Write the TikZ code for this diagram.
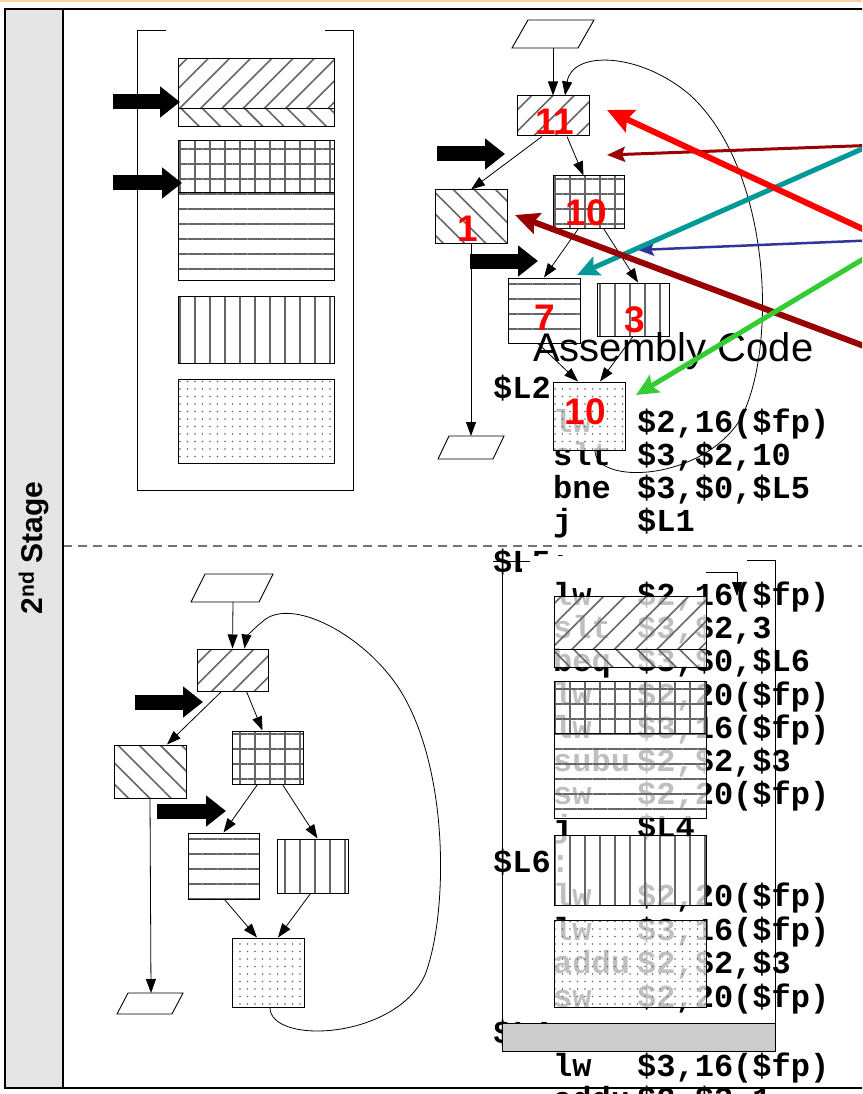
\documentclass[tikz,border=0pt]{standalone}
\usepackage{fontspec}
\setmainfont{Liberation Sans}
\newfontfamily\codefont{Liberation Mono}
\usetikzlibrary{arrows.meta,patterns.meta}
\definecolor{darkred}{RGB}{153,0,0}
\definecolor{tealc}{RGB}{0,153,153}
\definecolor{navyc}{RGB}{51,51,153}
\definecolor{greenc}{RGB}{51,204,51}
\begin{document}
\begin{tikzpicture}[x=1pt,y=-1pt,
  box/.style={draw, line width=1pt, inner sep=0pt, preaction={fill=white, fill opacity=0.75}, pattern color=black!60},
  nelines/.style={box, pattern={Lines[angle=45,distance=15pt,line width=1.6pt]}},
  nwlines/.style={box, pattern={Lines[angle=-45,distance=15pt,line width=1.6pt]}},
  gridbox/.style={box, pattern={Hatch[angle=0,distance=15pt,line width=1.5pt]}},
  hlines/.style={box, pattern={Lines[angle=0,distance=15pt,line width=1.5pt]}},
  vlines/.style={box, pattern={Lines[angle=90,distance=15pt,line width=1.5pt]}},
  dotbox/.style={box, pattern={Dots[distance=7.5pt,radius=0.8pt]}},
  io/.style={line width=0.9pt},
  flow/.style={line width=0.8pt, -{Triangle[length=14pt,width=10pt]}},
  fat/.style={line width=15pt, -{Triangle[length=20pt,width=30pt]}},
  asm/.style={anchor=base west, inner sep=0pt, font=\codefont\bfseries\fontsize{32pt}{33pt}\selectfont},
  num/.style={inner sep=0pt, text=red, font=\bfseries\fontsize{37pt}{37pt}\selectfont}]
\useasboundingbox (0,0) rectangle (862,1094);
\clip (0,0) rectangle (862,1094);
\fill[orange!35] (0,0) rectangle (862,2.5);
\fill[black!10] (5,9) rectangle (63,1088);
\node[rotate=90, font=\bfseries\fontsize{30pt}{30pt}\selectfont] (stage) at (34,548) {2\textsuperscript{nd} Stage};
\draw[black!55, line width=1.3pt, dash pattern=on 9pt off 6pt] (63,546) -- (862,546);
% layout of the blocks in memory
\draw[io] (166,30) -- (137,30) -- (137,490) -- (353,490) -- (353,30) -- (325,30);
\draw[nelines] (178,59) rectangle (334,109); \draw[nwlines] (178,109) rectangle (334,127);
\draw[gridbox] (178,141) rectangle (334,193); \draw[hlines] (178,193) rectangle (334,280);
\draw[vlines] (178,296) rectangle (334,363); \draw[dotbox] (178,379) rectangle (334,463);
\coordinate (fa1) at (113,102); \coordinate (fb1) at (180,102); \coordinate (fa2) at (113,183); \coordinate (fb2) at (182,183);
\draw[fat] (fa1) -- (fb1); \draw[fat] (fa2) -- (fb2);
% assembly code, upper part
\node[asm] (l2) at (493,398) {\$L2};
\node[asm] (u1o) at (553,432) {lw}; \node[asm] (u1a) at (637,432) {\$2,16(\$fp)};
\node[asm] (u2o) at (553,465) {slt}; \node[asm] (u2a) at (637,465) {\$3,\$2,10};
\node[asm] (u3o) at (553,498) {bne}; \node[asm] (u3a) at (637,498) {\$3,\$0,\$L5};
\node[asm] (u4o) at (553,531) {j}; \node[asm] (u4a) at (637,531) {\$L1};
% upper flow graph
\draw[io] (528,20) -- (594,20) -- (578,48) -- (512,48) -- cycle; \coordinate (sU) at (553,48);
\draw[io] (449,436) -- (504,436) -- (493,459) -- (438,459) -- cycle; \coordinate (eU) at (471,436);
\node[nelines, minimum width=72pt, minimum height=40pt] (b11) at (553,116) {};
\node[nwlines, minimum width=72pt, minimum height=53pt] (b1) at (471,216.5) {};
\node[gridbox, minimum width=71pt, minimum height=52pt] (b10) at (588.5,202) {};
\node[hlines, minimum width=72pt, minimum height=65pt] (b7) at (544,310.5) {};
\node[vlines, minimum width=72pt, minimum height=53pt] (b3) at (633,309.5) {};
\node[dotbox, minimum width=72pt, minimum height=68pt] (b10d) at (589,416) {};
\draw[flow] (sU) -- (b11.north);
\draw[flow] ([xshift=-11pt]b11.south) -- (b1.north);
\draw[flow] ([xshift=14pt]b11.south) -- ([xshift=-5pt]b10.north);
\draw[flow] ([xshift=-10pt]b10.south) -- (b7.north);
\draw[flow] ([xshift=15pt]b10.south) -- ([xshift=5pt]b3.north);
\draw[flow] ([xshift=-6pt]b7.south) -- ([xshift=-11pt]b10d.north);
\draw[flow] (b3.south) -- ([xshift=11pt]b10d.north);
\draw[flow] (b1.south) -- (eU);
\coordinate (fa3) at (437,154); \coordinate (fb3) at (505,154); \coordinate (fa4) at (470,261); \coordinate (fb4) at (538,261);
\draw[fat] (fa3) -- (fb3); \draw[fat] (fa4) -- (fb4);
\node[anchor=base west, inner sep=0pt, font=\fontsize{40pt}{40pt}\selectfont] (title) at (533,361) {Assembly Code};
\draw[flow] ([xshift=6pt]b10d.south) .. controls (595,485) and (700,482) .. (740,420) .. controls (778,350) and (772,170) .. (690,95) .. controls (640,52) and (572,50) .. ([xshift=12pt]b11.north);
% lower flow graph
\draw[io] (205,574) -- (273,574) -- (259,602) -- (191,602) -- cycle; \coordinate (sL) at (233,602);
\draw[io] (128,993) -- (183,993) -- (172,1014) -- (117,1014) -- cycle; \coordinate (eL) at (151,993);
\node[nelines, minimum width=71pt, minimum height=42pt] (tL) at (232.5,670) {};
\node[nwlines, minimum width=72pt, minimum height=53pt] (lL) at (150,771.5) {};
\node[gridbox, minimum width=71pt, minimum height=53pt] (gL) at (267.5,757.5) {};
\node[hlines, minimum width=71pt, minimum height=66pt] (hL) at (223.5,866) {};
\node[vlines, minimum width=71pt, minimum height=54pt] (vL) at (312.5,866) {};
\node[dotbox, minimum width=72pt, minimum height=69pt] (dL) at (268,972.5) {};
\draw[flow] (sL) -- (tL.north);
\draw[flow] ([xshift=-11pt]tL.south) -- ([xshift=17pt]lL.north);
\draw[flow] ([xshift=14pt]tL.south) -- ([xshift=-5pt]gL.north);
\draw[flow] ([xshift=-10pt]gL.south) -- (hL.north);
\draw[flow] ([xshift=15pt]gL.south) -- ([xshift=5pt]vL.north);
\draw[flow] ([xshift=1pt]hL.south) -- ([xshift=-11pt]dL.north);
\draw[flow] ([xshift=-2pt]vL.south) -- ([xshift=10pt]dL.north);
\draw[flow] (lL.south) -- (eL);
\draw[flow] ([xshift=2pt]dL.south) .. controls (270,1045) and (395,1040) .. (425,975) .. controls (448,915) and (450,770) .. (400,690) .. controls (365,635) and (290,595) .. (262,622) .. controls (252,630) and (246,638) .. ([xshift=12pt]tL.north);
\coordinate (fa5) at (135,702); \coordinate (fb5) at (203,702); \coordinate (fa6) at (157,811); \coordinate (fb6) at (226,811);
\draw[fat] (fa5) -- (fb5); \draw[fat] (fa6) -- (fb6);
% assembly code, lower part
\node[asm] (l5) at (493,572) {\$L5:};
\node[asm] (d1o) at (553,605) {lw}; \node[asm] (d1a) at (637,605) {\$2,16(\$fp)};
\node[asm] (d2o) at (553,638) {slt}; \node[asm] (d2a) at (637,638) {\$3,\$2,3};
\node[asm] (d3o) at (553,671) {beq}; \node[asm] (d3a) at (637,671) {\$3,\$0,\$L6};
\node[asm] (d4o) at (553,705) {lw}; \node[asm] (d4a) at (637,705) {\$2,20(\$fp)};
\node[asm] (d5o) at (553,738) {lw}; \node[asm] (d5a) at (637,738) {\$3,16(\$fp)};
\node[asm] (d6o) at (553,771) {subu}; \node[asm] (d6a) at (637,771) {\$2,\$2,\$3};
\node[asm] (d7o) at (553,804) {sw}; \node[asm] (d7a) at (637,804) {\$2,20(\$fp)};
\node[asm] (d8o) at (553,837) {j}; \node[asm] (d8a) at (637,837) {\$L4};
\node[asm] (l6) at (493,872) {\$L6:};
\node[asm] (d9o) at (553,906) {lw}; \node[asm] (d9a) at (637,906) {\$2,20(\$fp)};
\node[asm] (d10o) at (553,940) {lw}; \node[asm] (d10a) at (637,940) {\$3,16(\$fp)};
\node[asm] (d11o) at (553,973) {addu}; \node[asm] (d11a) at (637,973) {\$2,\$2,\$3};
\node[asm] (d12o) at (553,1007) {sw}; \node[asm] (d12a) at (637,1007) {\$2,20(\$fp)};
\node[asm] (l4) at (493,1043) {\$L4:};
\node[asm] (d13o) at (553,1076) {lw}; \node[asm] (d13a) at (637,1076) {\$3,16(\$fp)};
\node[asm] (d14o) at (553,1109) {addu}; \node[asm] (d14a) at (637,1109) {\$2,\$3,1};
% loop body laid out over the code
\fill[white] (522,556) rectangle (704,580);
\draw[io] (493,561) -- (530,561); \draw[io] (502,561) -- (502,1051); \draw[io] (747,560) -- (775,560) -- (775,1051);
\draw[nelines] (554,596) rectangle (706,649); \draw[nwlines] (554,649) rectangle (706,667);
\draw[gridbox] (554,681) rectangle (706,733); \draw[hlines] (554,733) rectangle (706,818);
\draw[vlines] (554,835) rectangle (706,905); \draw[dotbox] (554,920) rectangle (706,1007);
\draw[io, fill=black!20] (502,1023) rectangle (775,1051);
\coordinate (la) at (706,572); \coordinate (lb) at (737,596);
\draw[flow] (la) -- (737,572) -- (lb);
% counts
\node[num] (n11) at (555,122) {11}; \node[num] (n1) at (468,229) {1}; \node[num] (n10) at (586,213) {10};
\node[num] (n7) at (545,318) {7}; \node[num] (n3) at (635,320) {3}; \node[num] (n10d) at (585,412) {10};
% pointers from the right
\coordinate (r1) at (880,237); \coordinate (r1t) at (607,110);
\coordinate (r2) at (880,145); \coordinate (r2t) at (607,155);
\coordinate (r3) at (880,141); \coordinate (r3t) at (577,275);
\coordinate (r4) at (880,240); \coordinate (r4t) at (638,250);
\coordinate (r5) at (880,352); \coordinate (r5t) at (515,215);
\coordinate (r6) at (880,249); \coordinate (r6t) at (636,395);
\draw[darkred, line width=3pt, -{Stealth[length=18pt,width=15pt,inset=3pt]}] (r2) -- (r2t);
\draw[navyc, line width=2.5pt, -{Stealth[length=16pt,width=13pt,inset=3pt]}] (r4) -- (r4t);
\draw[tealc, line width=5pt, -{Stealth[length=22pt,width=20pt,inset=4pt]}] (r3) -- (r3t);
\draw[red, line width=6pt, -{Stealth[length=26pt,width=24pt,inset=4pt]}] (r1) -- (r1t);
\draw[darkred, line width=6pt, -{Stealth[length=24pt,width=22pt,inset=4pt]}] (r5) -- (r5t);
\draw[greenc, line width=5pt, -{Stealth[length=22pt,width=20pt,inset=4pt]}] (r6) -- (r6t);
% frame
\draw[line width=2pt] (880,9) -- (5,9) -- (5,1088) -- (880,1088);
\draw[line width=2.5pt] (63,9) -- (63,1088);
\end{tikzpicture}
\end{document}
